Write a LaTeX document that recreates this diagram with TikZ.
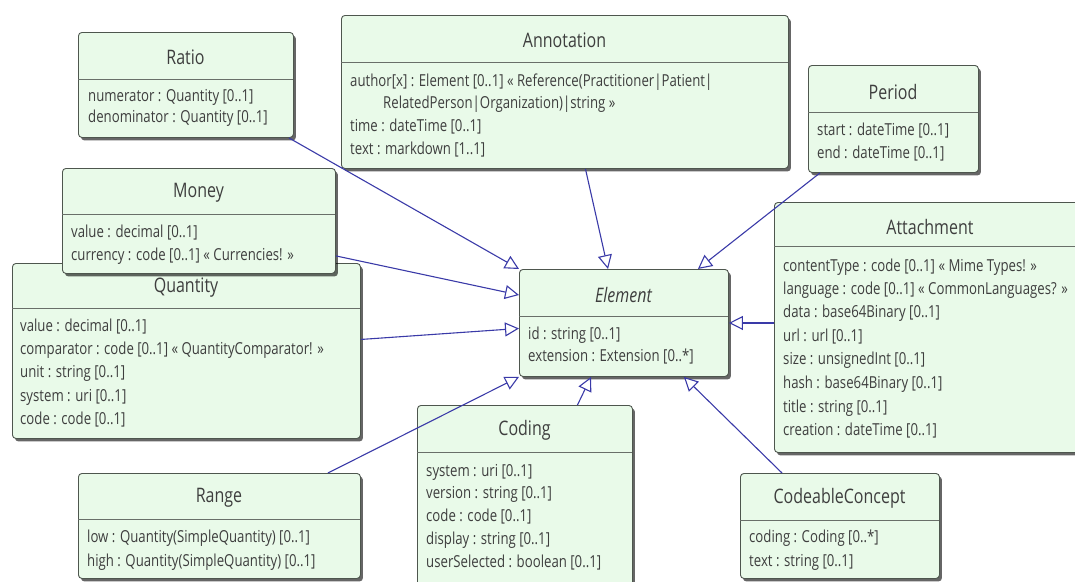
\documentclass[tikz,border=0pt]{standalone}
\usepackage{fontspec}
\setmainfont{Open Sans}[FakeStretch=0.8]
\usetikzlibrary{arrows.meta,shadows,calc}

\definecolor{boxfill}{RGB}{233,250,233}
\definecolor{boxline}{RGB}{78,86,78}
\definecolor{linkblue}{RGB}{58,58,168}
\definecolor{txt}{RGB}{62,62,62}

\tikzset{
  classbox/.style={draw=boxline, line width=0.9pt, fill=boxfill,
    rounded corners=3.5pt, inner sep=0pt, anchor=north west,
    drop shadow={shadow xshift=2.5pt, shadow yshift=-3pt, fill=black, opacity=0.6}},
  sepline/.style={draw=boxline!85, line width=0.8pt},
  ctitle/.style={font=\fontsize{20}{22}\selectfont, text=txt, inner sep=0pt},
  attr/.style={font=\fontsize{16.5}{18}\selectfont, text=txt, inner sep=0pt,
    anchor=west, text height=12pt, text depth=3.5pt},
  inherit/.style={draw=linkblue, line width=1.1pt,
    -{Triangle[length=14pt, width=14pt, fill=white, line width=1.1pt]}},
}

% class box: name, left, top, right, bottom, divider y, title y, title
\newcommand\umlbox[8]{%
  \node[classbox, minimum width={(#4-(#2))*1pt}, minimum height={(#5-(#3))*1pt}] (#1) at (#2,#3) {};
  \draw[sepline] (#2,#6) -- (#4,#6);
  \node[ctitle] (#1-title) at ({(#2+#4)/2},#7) {#8};
}

\begin{document}
\begin{tikzpicture}[x=1pt, y=-1pt]
\useasboundingbox (0,0) rectangle (1075,581);
\clip (0,0) rectangle (1075,581);

% Ratio
\umlbox{ratio}{78}{32}{293}{137}{79}{57}{Ratio}
\node[attr] (ratio-a1) at (88,97)  {numerator : Quantity [0..1]};
\node[attr] (ratio-a2) at (88,118) {denominator : Quantity [0..1]};

% Annotation
\umlbox{annotation}{341}{15}{788}{168}{62}{40}{Annotation}
\node[attr] (annotation-a1) at (350,82)  {author[x] : Element [0..1] « Reference(Practitioner|Patient|};
\node[attr] (annotation-a1b) at (383,104) {RelatedPerson|Organization)|string »};
\node[attr] (annotation-a2) at (350,127) {time : dateTime [0..1]};
\node[attr] (annotation-a3) at (350,150) {text : markdown [1..1]};

% Period
\umlbox{period}{808}{65}{978}{172}{112}{92}{Period}
\node[attr] (period-a1) at (817,131) {start : dateTime [0..1]};
\node[attr] (period-a2) at (817,154) {end : dateTime [0..1]};

% Quantity (partly covered by Money)
\umlbox{quantity}{12}{263}{360}{438}{308}{288}{Quantity}
\node[attr] (quantity-a1) at (20,327) {value : decimal [0..1]};
\node[attr] (quantity-a2) at (20,350) {comparator : code [0..1] « QuantityComparator! »};
\node[attr] (quantity-a3) at (20,373) {unit : string [0..1]};
\node[attr] (quantity-a4) at (20,397) {system : uri [0..1]};
\node[attr] (quantity-a5) at (20,420) {code : code [0..1]};

% Money
\umlbox{money}{62}{168}{335}{273}{214}{193}{Money}
\node[attr] (money-a1) at (71,233) {value : decimal [0..1]};
\node[attr] (money-a2) at (71,256) {currency : code [0..1] « Currencies! »};

% Element
\umlbox{element}{519}{269}{728}{376}{316}{295}{\itshape Element}
\node[attr] (element-a1) at (528,335) {id : string [0..1]};
\node[attr] (element-a2) at (528,357) {extension : Extension [0..*]};

% Attachment
\umlbox{attachment}{774}{202}{1086}{452}{246}{227}{Attachment}
\node[attr] (attachment-a1) at (783,267) {contentType : code [0..1] « Mime Types! »};
\node[attr] (attachment-a2) at (783,290) {language : code [0..1] « CommonLanguages? »};
\node[attr] (attachment-a3) at (783,313) {data : base64Binary [0..1]};
\node[attr] (attachment-a4) at (783,337) {url : url [0..1]};
\node[attr] (attachment-a5) at (783,360) {size : unsignedInt [0..1]};
\node[attr] (attachment-a6) at (783,384) {hash : base64Binary [0..1]};
\node[attr] (attachment-a7) at (783,408) {title : string [0..1]};
\node[attr] (attachment-a8) at (783,431) {creation : dateTime [0..1]};

% Coding
\umlbox{coding}{417}{405}{632}{600}{452}{430}{Coding}
\node[attr] (coding-a1) at (426,472) {system : uri [0..1]};
\node[attr] (coding-a2) at (426,494) {version : string [0..1]};
\node[attr] (coding-a3) at (426,517) {code : code [0..1]};
\node[attr] (coding-a4) at (426,540) {display : string [0..1]};
\node[attr] (coding-a5) at (426,563) {userSelected : boolean [0..1]};

% Range
\umlbox{range}{78}{473}{360}{578}{519}{498}{Range}
\node[attr] (range-a1) at (87,538) {low : Quantity(SimpleQuantity) [0..1]};
\node[attr] (range-a2) at (87,562) {high : Quantity(SimpleQuantity) [0..1]};

% CodeableConcept
\umlbox{cconcept}{740}{473}{939}{578}{520}{498}{CodeableConcept}
\node[attr] (cconcept-a1) at (749,538) {coding : Coding [0..*]};
\node[attr] (cconcept-a2) at (749,562) {text : string [0..1]};

% generalisation links to Element
\draw[inherit] ($(ratio.south east)+(-5,0)$) -- (element.north west);
\draw[inherit] ($(annotation.south)+(20.5,0)$) -- ($(element.north west)+(89,0)$);
\draw[inherit] ($(period.south west)+(12,0)$) -- ($(element.north east)+(-31,0)$);
\draw[inherit] ($(money.south east)+(0,-18)$) -- ($(element.north west)+(0,26)$);
\draw[inherit] ($(quantity.east)+(0,-11.5)$) -- ($(element.west)+(0,5.5)$);
\draw[inherit] (attachment.west |- element.east) -- (element.east);
\draw[inherit] ($(range.north east)+(-33,0)$) -- (element.south west);
\draw[inherit] ($(coding.north)+(52.5,0)$) -- ($(element.south west)+(72,0)$);
\draw[inherit] ($(cconcept.north west)+(42,0)$) -- ($(element.south east)+(-45,0)$);
\end{tikzpicture}
\end{document}
